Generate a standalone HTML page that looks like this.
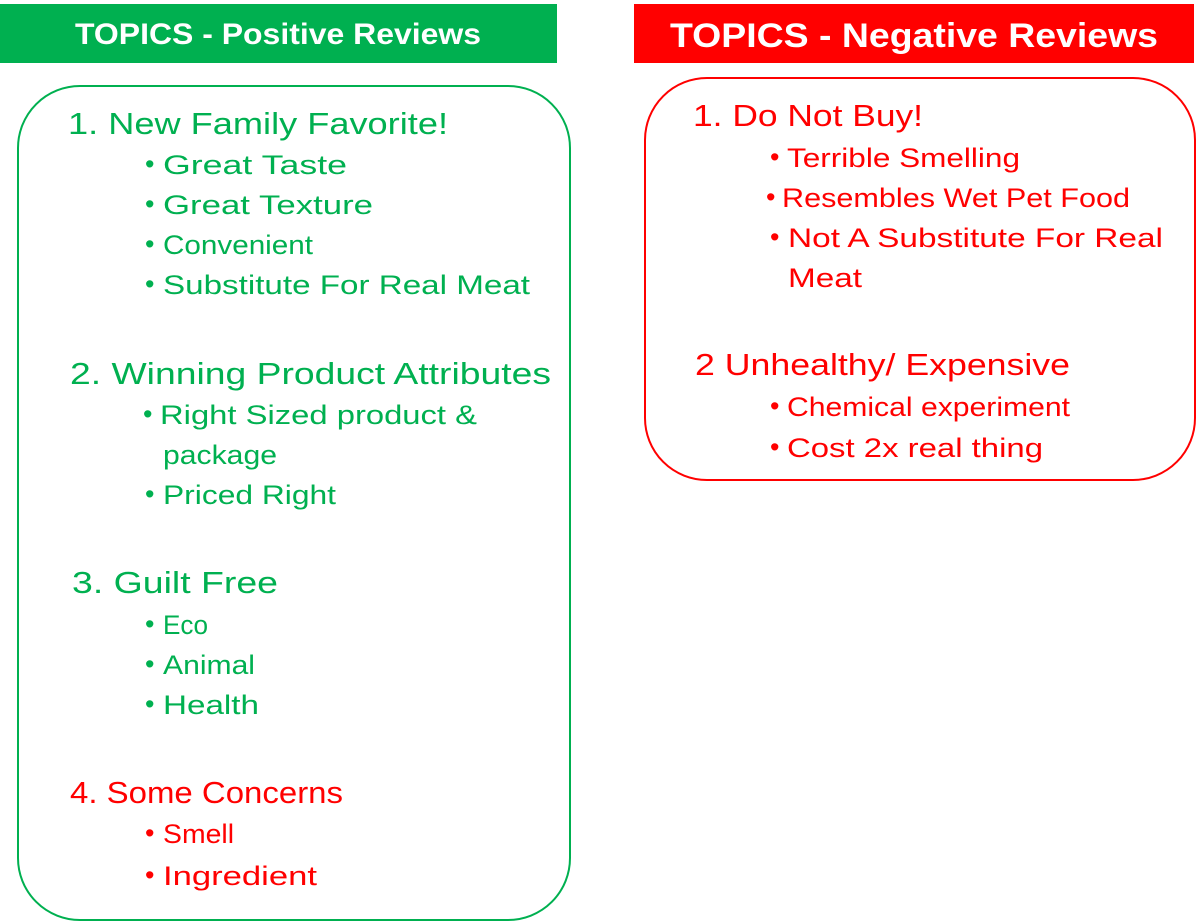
<!DOCTYPE html>
<html><head><meta charset="utf-8"><style>
html,body{margin:0;padding:0;background:#fff;width:1204px;height:922px;overflow:hidden}
svg{display:block}
text{font-family:"Liberation Sans","DejaVu Sans",sans-serif}
</style></head><body>
<svg width="1204" height="922" viewBox="0 0 1204 922">
<g>
<rect x="0" y="4" width="557" height="59" fill="#00B050"/>
<text x="75" y="44" font-size="30" font-weight="bold" fill="#fff" textLength="406" lengthAdjust="spacingAndGlyphs">TOPICS - Positive Reviews</text>
</g>
<g>
<rect x="634" y="4" width="560" height="59" fill="#FF0000"/>
<text x="670" y="47" font-size="34" font-weight="bold" fill="#fff" textLength="488" lengthAdjust="spacingAndGlyphs">TOPICS - Negative Reviews</text>
</g>
<rect x="18" y="86" width="552" height="834" rx="62" fill="none" stroke="#00B050" stroke-width="2"/>
<rect x="645" y="78" width="550" height="402" rx="62" fill="none" stroke="#FF0000" stroke-width="2"/>

<g fill="#00B050">
<text x="68" y="134" font-size="31" textLength="380" lengthAdjust="spacingAndGlyphs">1. New Family Favorite!</text>
<text x="145" y="173" font-size="27">•</text><text x="163" y="174" font-size="27" textLength="184" lengthAdjust="spacingAndGlyphs">Great Taste</text>
<text x="145" y="213" font-size="27">•</text><text x="163" y="214" font-size="27" textLength="210" lengthAdjust="spacingAndGlyphs">Great Texture</text>
<text x="145" y="253" font-size="27">•</text><text x="163" y="254" font-size="27" textLength="150" lengthAdjust="spacingAndGlyphs">Convenient</text>
<text x="145" y="293" font-size="27">•</text><text x="163" y="294" font-size="27" textLength="367" lengthAdjust="spacingAndGlyphs">Substitute For Real Meat</text>

<text x="70" y="384" font-size="31" textLength="481" lengthAdjust="spacingAndGlyphs">2. Winning Product Attributes</text>
<text x="143" y="423" font-size="27">•</text><text x="160" y="424" font-size="27" textLength="317" lengthAdjust="spacingAndGlyphs">Right Sized product &amp;</text>
<text x="163" y="464" font-size="27" textLength="114" lengthAdjust="spacingAndGlyphs">package</text>
<text x="145" y="503" font-size="27">•</text><text x="163" y="504" font-size="27" textLength="173" lengthAdjust="spacingAndGlyphs">Priced Right</text>

<text x="72" y="593" font-size="31" textLength="206" lengthAdjust="spacingAndGlyphs">3. Guilt Free</text>
<text x="145" y="633" font-size="27">•</text><text x="163" y="634" font-size="27" textLength="45" lengthAdjust="spacingAndGlyphs">Eco</text>
<text x="145" y="673" font-size="27">•</text><text x="163" y="674" font-size="27" textLength="92" lengthAdjust="spacingAndGlyphs">Animal</text>
<text x="145" y="713" font-size="27">•</text><text x="163" y="714" font-size="27" textLength="96" lengthAdjust="spacingAndGlyphs">Health</text>
</g>
<g fill="#FF0000">
<text x="70" y="803" font-size="31" textLength="273" lengthAdjust="spacingAndGlyphs">4. Some Concerns</text>
<text x="145" y="842" font-size="27">•</text><text x="163" y="843" font-size="27" textLength="71" lengthAdjust="spacingAndGlyphs">Smell</text>
<text x="145" y="884" font-size="27">•</text><text x="163" y="885" font-size="27" textLength="154" lengthAdjust="spacingAndGlyphs">Ingredient</text>
</g>

<g fill="#FF0000">
<text x="693" y="126" font-size="31" textLength="230" lengthAdjust="spacingAndGlyphs">1. Do Not Buy!</text>
<text x="770" y="166" font-size="27">•</text><text x="787" y="167" font-size="27" textLength="233" lengthAdjust="spacingAndGlyphs">Terrible Smelling</text>
<text x="766" y="206" font-size="27">•</text><text x="782" y="207" font-size="27" textLength="348" lengthAdjust="spacingAndGlyphs">Resembles Wet Pet Food</text>
<text x="770" y="246" font-size="27">•</text><text x="788" y="247" font-size="27" textLength="375" lengthAdjust="spacingAndGlyphs">Not A Substitute For Real</text>
<text x="788" y="287" font-size="27" textLength="74" lengthAdjust="spacingAndGlyphs">Meat</text>
<text x="695" y="375" font-size="31" textLength="375" lengthAdjust="spacingAndGlyphs">2 Unhealthy/ Expensive</text>
<text x="770" y="415" font-size="27">•</text><text x="787" y="416" font-size="27" textLength="283" lengthAdjust="spacingAndGlyphs">Chemical experiment</text>
<text x="770" y="456" font-size="27">•</text><text x="787" y="457" font-size="27" textLength="256" lengthAdjust="spacingAndGlyphs">Cost 2x real thing</text>
</g>
</svg>
</body></html>
